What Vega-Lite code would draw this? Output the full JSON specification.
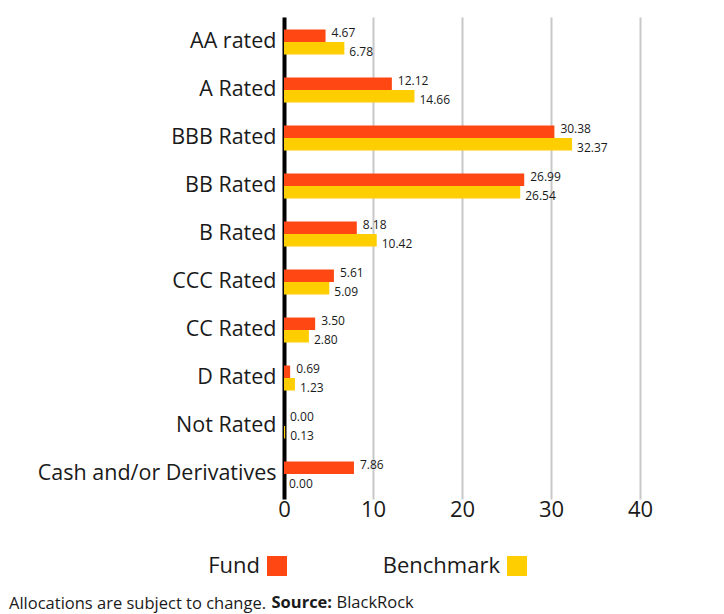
{
  "$schema": "https://vega.github.io/schema/vega-lite/v6.json",
  "width": 356,
  "height": 482,
  "autosize": {"type": "none"},
  "padding": {"left": 284, "top": 17, "right": 84, "bottom": 115},
  "background": "white",
  "config": {"font": "Open Sans", "view": {"stroke": null}},
  "title": {
    "text": "Allocations are subject to change.",
    "orient": "top",
    "anchor": "start",
    "frame": "group",
    "baseline": "alphabetic",
    "dx": -275,
    "dy": 608,
    "offset": 0,
    "fontSize": 16.5,
    "fontWeight": "normal",
    "color": "#1a1a1a"
  },
  "data": {
    "values": [
      {"rating": "AA rated", "series": "Fund", "value": 4.67},
      {"rating": "AA rated", "series": "Benchmark", "value": 6.78},
      {"rating": "A Rated", "series": "Fund", "value": 12.12},
      {"rating": "A Rated", "series": "Benchmark", "value": 14.66},
      {"rating": "BBB Rated", "series": "Fund", "value": 30.38},
      {"rating": "BBB Rated", "series": "Benchmark", "value": 32.37},
      {"rating": "BB Rated", "series": "Fund", "value": 26.99},
      {"rating": "BB Rated", "series": "Benchmark", "value": 26.54},
      {"rating": "B Rated", "series": "Fund", "value": 8.18},
      {"rating": "B Rated", "series": "Benchmark", "value": 10.42},
      {"rating": "CCC Rated", "series": "Fund", "value": 5.61},
      {"rating": "CCC Rated", "series": "Benchmark", "value": 5.09},
      {"rating": "CC Rated", "series": "Fund", "value": 3.50},
      {"rating": "CC Rated", "series": "Benchmark", "value": 2.80},
      {"rating": "D Rated", "series": "Fund", "value": 0.69},
      {"rating": "D Rated", "series": "Benchmark", "value": 1.23},
      {"rating": "Not Rated", "series": "Fund", "value": 0.00},
      {"rating": "Not Rated", "series": "Benchmark", "value": 0.13},
      {"rating": "Cash and/or Derivatives", "series": "Fund", "value": 7.86},
      {"rating": "Cash and/or Derivatives", "series": "Benchmark", "value": 0.00}
    ]
  },
  "encoding": {
    "y": {
      "field": "rating",
      "type": "nominal",
      "sort": ["AA rated", "A Rated", "BBB Rated", "BB Rated", "B Rated", "CCC Rated", "CC Rated", "D Rated", "Not Rated", "Cash and/or Derivatives"],
      "scale": {"paddingInner": 0.48, "paddingOuter": 0.26},
      "axis": {
        "title": "BlackRock",
        "titleAngle": 0,
        "titleX": 52,
        "titleY": 590,
        "titleAlign": "left",
        "titleBaseline": "alphabetic",
        "titleFontSize": 16.5,
        "titleFontWeight": "normal",
        "titleColor": "#1a1a1a",
        "labelFontSize": 21.5,
        "labelColor": "#1a1a1a",
        "domainColor": "#000000",
        "domainWidth": 4,
        "ticks": false,
        "labelPadding": 8,
        "labelLimit": 400
      }
    },
    "yOffset": {"field": "series", "sort": ["Fund", "Benchmark"]},
    "x": {
      "field": "value",
      "type": "quantitative",
      "scale": {"domain": [0, 40]},
      "axis": {
        "title": "Source:",
        "titleX": -13,
        "titleY": 108,
        "titleAlign": "left",
        "titleBaseline": "alphabetic",
        "titleFontSize": 16.5,
        "titleFontWeight": "bold",
        "titleColor": "#1a1a1a",
        "values": [0, 10, 20, 30, 40],
        "grid": true,
        "gridColor": "#c8c8c8",
        "gridWidth": 2,
        "domain": false,
        "ticks": false,
        "labelFlush": false,
        "labelFontSize": 22,
        "labelPadding": 0,
        "labelColor": "#1a1a1a"
      }
    }
  },
  "layer": [
    {
      "mark": {"type": "bar"},
      "encoding": {
        "color": {
          "field": "series",
          "type": "nominal",
          "scale": {"domain": ["Fund", "Benchmark"], "range": ["#FF4713", "#FFCE00"]},
          "legend": {
            "orient": "none",
            "legendX": -18,
            "legendY": 538,
            "direction": "horizontal",
            "title": null,
            "symbolType": "square",
            "symbolSize": 400,
            "symbolStrokeWidth": 0,
            "symbolOpacity": 1,
            "labelFontSize": 22,
            "labelColor": "#1a1a1a",
            "labelAlign": "right",
            "labelOffset": -28,
            "columnPadding": 95
          }
        }
      }
    },
    {
      "transform": [{"filter": "datum.series === 'Fund'"}],
      "mark": {"type": "text", "align": "left", "dx": 6, "dy": -3, "fontSize": 12, "color": "#1a1a1a"},
      "encoding": {"text": {"field": "value", "type": "quantitative", "format": ".2f"}}
    },
    {
      "transform": [{"filter": "datum.series === 'Benchmark'"}],
      "mark": {"type": "text", "align": "left", "dx": 5, "dy": 4, "fontSize": 12, "color": "#1a1a1a"},
      "encoding": {"text": {"field": "value", "type": "quantitative", "format": ".2f"}}
    }
  ]
}
